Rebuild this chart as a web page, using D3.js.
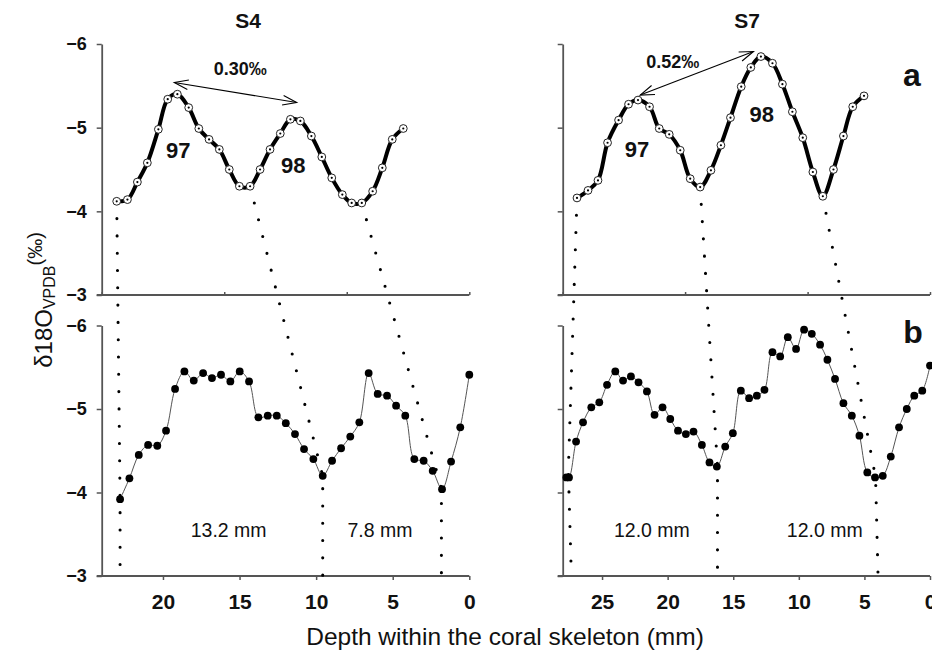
<!DOCTYPE html>
<html><head><meta charset="utf-8">
<script src="https://cdn.jsdelivr.net/npm/d3@7"></script>
<style>body{margin:0;background:#fff}svg{display:block}</style>
</head><body>
<svg id="c" width="932" height="650"></svg>
<script>
// ---------- DATA ----------
const yTicks = [-6, -5, -4, -3];
const s4TopTicks = [24, 16, 8, 0];
const s7TopTicks = [28, 18.67, 9.33, 0];
const s4BottomTicks = [20, 15, 10, 5, 0];
const s7BottomTicks = [25, 20, 15, 10, 5, 0];

// panel a, S4
const s4aDepth = [23.02,22.32,21.67,21.02,20.30,19.69,19.06,18.32,17.66,16.99,16.32,15.67,15.01,14.31,13.66,13.01,12.34,11.68,11.03,10.31,9.63,8.98,8.29,7.68,7.02,6.31,5.68,5.03,4.31];
const s4aValue = [-4.12,-4.14,-4.35,-4.58,-4.98,-5.34,-5.40,-5.24,-4.99,-4.86,-4.74,-4.50,-4.30,-4.30,-4.50,-4.74,-4.93,-5.10,-5.08,-4.90,-4.65,-4.40,-4.20,-4.10,-4.10,-4.24,-4.52,-4.86,-4.99];
// panel a, S7
const s7aDepth = [26.91,26.07,25.31,24.58,23.74,22.98,22.26,21.38,20.64,19.88,19.04,18.28,17.52,16.70,15.94,15.21,14.39,13.66,12.89,12.01,11.25,10.49,9.70,8.93,8.17,7.36,6.60,5.89,5.03];
const s7aValue = [-4.16,-4.25,-4.37,-4.82,-5.09,-5.28,-5.33,-5.25,-4.99,-4.92,-4.73,-4.39,-4.29,-4.49,-4.79,-5.12,-5.49,-5.72,-5.85,-5.77,-5.52,-5.19,-4.88,-4.47,-4.18,-4.50,-4.90,-5.25,-5.38];
// panel b, S4
const s4bDepth = [22.80,22.19,21.58,20.97,20.37,19.80,19.21,18.60,17.99,17.38,16.80,16.21,15.60,14.99,14.38,13.77,13.16,12.57,11.98,11.38,10.79,10.18,9.57,8.96,8.37,7.77,7.18,6.57,5.98,5.37,4.78,4.18,3.59,2.98,2.39,1.78,1.19,0.59,0.00];
const s4bValue = [-3.92,-4.17,-4.45,-4.57,-4.56,-4.74,-5.24,-5.45,-5.34,-5.43,-5.37,-5.41,-5.33,-5.45,-5.33,-4.90,-4.92,-4.92,-4.83,-4.70,-4.52,-4.40,-4.20,-4.38,-4.53,-4.67,-4.84,-5.43,-5.18,-5.16,-5.04,-4.92,-4.40,-4.38,-4.26,-4.04,-4.37,-4.78,-5.41];
// panel b, S7
const s7bDepth = [27.72,27.52,26.98,26.45,25.82,25.21,24.62,23.99,23.40,22.80,22.22,21.58,21.00,20.39,19.80,19.21,18.61,18.03,17.39,16.81,16.25,15.61,15.03,14.42,13.79,13.20,12.62,12.01,11.42,10.84,10.21,9.60,9.01,8.38,7.82,7.24,6.60,5.96,5.38,4.78,4.19,3.60,2.99,2.36,1.77,1.20,0.59,0.00];
const s7bValue = [-4.18,-4.18,-4.61,-4.84,-5.02,-5.08,-5.29,-5.45,-5.34,-5.39,-5.32,-5.21,-4.93,-5.02,-4.88,-4.74,-4.70,-4.73,-4.57,-4.36,-4.31,-4.55,-4.71,-5.22,-5.13,-5.16,-5.23,-5.68,-5.63,-5.86,-5.72,-5.95,-5.90,-5.77,-5.59,-5.36,-5.07,-4.92,-4.68,-4.24,-4.18,-4.20,-4.43,-4.78,-5.00,-5.16,-5.22,-5.52];

// dotted correlation lines: [panel, depth, value]
const s4Links = [
  [["a",23.02,-4.12],["b",22.80,-3.92],["b",22.80,-3]],
  [["a",14.31,-4.30],["b",9.57,-4.20],["b",9.57,-3]],
  [["a",7.02,-4.10],["b",1.82,-4.05],["b",1.82,-3]]
];
const s7Links = [
  [["a",26.91,-4.16],["b",27.57,-4.27],["b",27.34,-3]],
  [["a",17.52,-4.29],["b",16.20,-4.31],["b",16.20,-3]],
  [["a",8.17,-4.18],["b",4.15,-4.18],["b",3.96,-3]]
];

// annotations
const s4Arrow = [[19.26,-5.54],[11.27,-5.30]];
const s7Arrow = [[22.09,-5.39],[13.46,-5.91]];
const boldNotes = [
  {col:"S4", p:"a", d:14.96, v:-5.63, t:"0.30‰", s:18},
  {col:"S4", p:"a", d:19.00, v:-4.64, t:"97", s:22},
  {col:"S4", p:"a", d:11.49, v:-4.46, t:"98", s:22},
  {col:"S7", p:"a", d:19.61, v:-5.71, t:"0.52‰", s:18},
  {col:"S7", p:"a", d:22.34, v:-4.65, t:"97", s:22},
  {col:"S7", p:"a", d:12.82, v:-5.07, t:"98", s:22}
];
const mmNotes = [
  {col:"S4", d:15.71, v:-3.47, t:"13.2 mm"},
  {col:"S4", d:5.83, v:-3.47, t:"7.8 mm"},
  {col:"S7", d:21.20, v:-3.47, t:"12.0 mm"},
  {col:"S7", d:8.02, v:-3.47, t:"12.0 mm"}
];

// ---------- DRAW ----------
const FONT = 'Arial, "Liberation Sans", Helvetica, sans-serif';
const svg = d3.select("#c").style("font-family", FONT);

const xs = {
  S4: d3.scaleLinear().domain([24, 0]).range([101.7, 469.3]),
  S7: d3.scaleLinear().domain([28, 0]).range([562.7, 930])
};
const ys = {
  a: d3.scaleLinear().domain([-6, -3]).range([44, 295]),
  b: d3.scaleLinear().domain([-6, -3]).range([325.5, 576])
};
const AX = "#555";

function styleAxis(g) {
  g.select(".domain").attr("stroke", AX).attr("stroke-width", 1.8);
  g.selectAll(".tick line").attr("stroke", AX).attr("stroke-width", 1.5);
  g.selectAll("text").attr("fill", "#111").attr("font-family", FONT).attr("font-weight", "bold");
}

["S4", "S7"].forEach(col => {
  const x = xs[col];
  ["a", "b"].forEach(p => {
    const y = ys[p];
    const ax = d3.axisLeft(y).tickValues(yTicks).tickSizeInner(5).tickSizeOuter(0).tickPadding(10)
      .tickFormat(col === "S4" ? d3.format("d") : (() => ""));
    const g = svg.append("g").attr("transform", `translate(${x.range()[0]},0)`).call(ax);
    styleAxis(g);
    g.selectAll("text").attr("font-size", 18);
  });
  // top x axis (no labels)
  const gt = svg.append("g").attr("transform", `translate(0,${ys.a.range()[1]})`)
    .call(d3.axisBottom(x).tickValues(col === "S4" ? s4TopTicks : s7TopTicks).tickSizeInner(-3).tickSizeOuter(0).tickFormat(() => ""));
  styleAxis(gt);
  gt.select(".domain").attr("d", `M${x.range()[0] - 5},0H${x.range()[1]}`);
  // bottom x axis
  const gb = svg.append("g").attr("transform", `translate(0,${ys.b.range()[1]})`)
    .call(d3.axisBottom(x).tickValues(col === "S4" ? s4BottomTicks : s7BottomTicks).tickSizeInner(4).tickSizeOuter(0).tickPadding(14));
  styleAxis(gb);
  gb.select(".domain").attr("d", `M${x.range()[0] - 5},0H${x.range()[1]}`);
  gb.selectAll("text").attr("font-size", 21);
});

// dotted links
const linkLine = d3.line();
function drawLinks(col, links) {
  const x = xs[col];
  links.forEach(L => {
    svg.append("path")
      .attr("d", linkLine(L.map(q => [x(q[1]), ys[q[0]](q[2])])))
      .attr("fill", "none").attr("stroke", "#000").attr("stroke-width", 3.1)
      .attr("stroke-linecap", "round").attr("stroke-dasharray", "0 17.3");
  });
}
drawLinks("S4", s4Links);
drawLinks("S7", s7Links);

// series
function drawTop(col, depth, value) {
  const x = xs[col], y = ys.a;
  const pts = depth.map((d, i) => [x(d), y(value[i])]);
  svg.append("path").attr("d", d3.line().curve(d3.curveCatmullRom.alpha(0.5))(pts))
    .attr("fill", "none").attr("stroke", "#000").attr("stroke-width", 4).attr("stroke-linejoin", "round");
  const g = svg.append("g");
  g.selectAll("circle.o").data(pts).join("circle").attr("class", "o")
    .attr("cx", d => d[0]).attr("cy", d => d[1]).attr("r", 3.9)
    .attr("fill", "#fff").attr("stroke", "#222").attr("stroke-width", 1);
  g.selectAll("circle.i").data(pts).join("circle").attr("class", "i")
    .attr("cx", d => d[0]).attr("cy", d => d[1]).attr("r", 1.1).attr("fill", "#000");
}
function drawBottom(col, depth, value) {
  const x = xs[col], y = ys.b;
  const pts = depth.map((d, i) => [x(d), y(value[i])]);
  svg.append("path").attr("d", d3.line().curve(d3.curveCatmullRom.alpha(0.5))(pts))
    .attr("fill", "none").attr("stroke", "#555").attr("stroke-width", 1);
  svg.append("g").selectAll("circle").data(pts).join("circle")
    .attr("cx", d => d[0]).attr("cy", d => d[1]).attr("r", 3.9).attr("fill", "#000");
}
drawTop("S4", s4aDepth, s4aValue);
drawTop("S7", s7aDepth, s7aValue);
drawBottom("S4", s4bDepth, s4bValue);
drawBottom("S7", s7bDepth, s7bValue);

// arrows
const defs = svg.append("defs");
defs.append("marker").attr("id", "ah").attr("viewBox", "-16 -8 18 16")
  .attr("refX", 0).attr("refY", 0).attr("markerWidth", 18).attr("markerHeight", 16)
  .attr("markerUnits", "userSpaceOnUse").attr("orient", "auto-start-reverse")
  .append("path").attr("d", "M-14,-4.8L0,0L-14,4.8").attr("fill", "none").attr("stroke", "#000").attr("stroke-width", 1.1);
[["S4", s4Arrow], ["S7", s7Arrow]].forEach(([col, A]) => {
  svg.append("path").attr("d", d3.line()(A.map(q => [xs[col](q[0]), ys.a(q[1])])))
    .attr("fill", "none").attr("stroke", "#000").attr("stroke-width", 1.1)
    .attr("marker-start", "url(#ah)").attr("marker-end", "url(#ah)");
});

// text annotations
boldNotes.forEach(n => {
  svg.append("text").attr("x", xs[n.col](n.d)).attr("y", ys[n.p](n.v))
    .attr("text-anchor", "middle").attr("font-weight", "bold").attr("font-size", n.s)
    .attr("fill", "#111").text(n.t);
});
mmNotes.forEach(n => {
  svg.append("text").attr("x", xs[n.col](n.d)).attr("y", ys.b(n.v))
    .attr("text-anchor", "middle").attr("font-size", 19.5).attr("fill", "#111").text(n.t);
});

// titles
svg.append("text").attr("x", 248).attr("y", 28).attr("text-anchor", "middle")
  .attr("font-weight", "bold").attr("font-size", 21).attr("fill", "#111").text("S4");
svg.append("text").attr("x", 747).attr("y", 28).attr("text-anchor", "middle")
  .attr("font-weight", "bold").attr("font-size", 21).attr("fill", "#111").text("S7");
svg.append("text").attr("x", 912).attr("y", 86).attr("text-anchor", "middle")
  .attr("font-weight", "bold").attr("font-size", 32).attr("fill", "#111").text("a");
svg.append("text").attr("x", 913).attr("y", 343).attr("text-anchor", "middle")
  .attr("font-weight", "bold").attr("font-size", 32).attr("fill", "#111").text("b");

// axis titles
svg.append("text").attr("x", 505).attr("y", 645).attr("text-anchor", "middle")
  .attr("font-size", 24.5).attr("fill", "#111").text("Depth within the coral skeleton (mm)");
const yt = svg.append("text").attr("transform", "translate(51.7,300) rotate(-90)")
  .attr("text-anchor", "middle").attr("fill", "#111");
yt.append("tspan").attr("font-size", 24).text("δ18O");
yt.append("tspan").attr("font-size", 16).attr("dy", 3.3).text("VPDB");
yt.append("tspan").attr("font-size", 20).attr("dy", -13.3).text("(‰)");
</script>
</body></html>
